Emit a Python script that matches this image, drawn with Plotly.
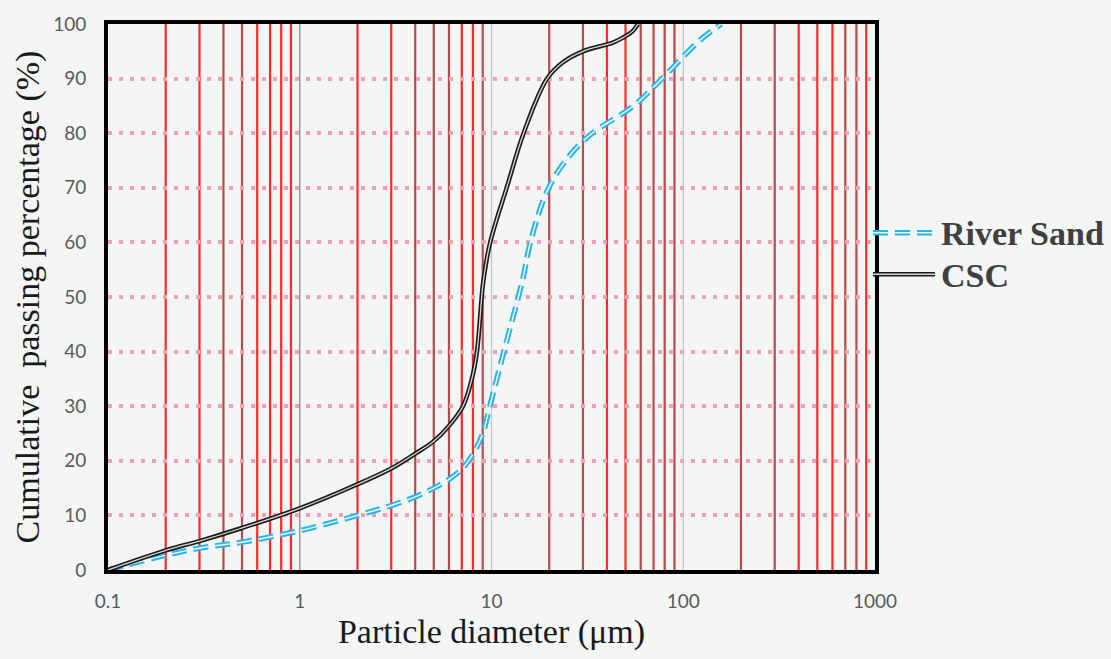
import plotly.graph_objects as go

# ---- data ----
csc_d = [0.1, 0.2, 0.3, 0.49, 1, 2, 3, 4, 5, 6, 7.1, 7.9, 8.4, 9.0, 9.4, 9.84, 10.6, 12.0, 14.7, 19.5, 23.6, 30, 43, 48.5, 54.5, 58]
csc_p = [0, 3.6, 5.3, 7.6, 11.3, 15.7, 18.6, 21.3, 23.6, 26.4, 30, 35, 40, 52, 56.5, 60, 64, 70, 80, 90, 93, 95, 96.6, 97.5, 98.7, 100]

river_d = [0.1, 0.2, 0.3, 0.5, 1, 2, 3, 4, 5, 6, 7, 8, 9, 9.8, 11.6, 14.5, 15.9, 19.5, 25, 32.7, 55, 77.6, 122, 158]
river_p = [0, 2.7, 4.0, 5.1, 7.2, 10, 11.8, 13.4, 15.0, 16.6, 18.5, 21.2, 25, 30, 40, 53, 59.8, 69.4, 75.5, 79.7, 85, 90, 97, 100]

x_ticks = [0.1, 1, 10, 100, 1000]
x_tick_labels = ["0.1", "1", "10", "100", "1000"]
y_ticks = [0, 10, 20, 30, 40, 50, 60, 70, 80, 90, 100]

minor_grid = [0.2, 0.3, 0.4, 0.5, 0.6, 0.7, 0.8, 0.9,
              2, 3, 4, 5, 6, 7, 8, 9,
              20, 30, 40, 50, 60, 70, 80, 90,
              200, 300, 400, 500, 600, 700, 800, 900]
BR = "#ff2a2a"
DK = "#b84b4b"
minor_colors = [BR, BR, DK, DK, BR, BR, BR, BR,
                BR, BR, DK, DK, DK, BR, BR, DK,
                DK, DK, BR, BR, DK, DK, DK, DK,
                DK, DK, BR, BR, BR, DK, DK, BR]
major_grid = [1, 10, 100]
major_colors = ["#8a8a8a", "#c4c4c4", "#c4c4c4"]

series_names = ["River Sand", "CSC"]
BG = "#f4f5f5"
CYAN = "#29b6e6"
SM = 1.0

fig = go.Figure()

# River sand: double dashed line
fig.add_trace(go.Scatter(x=river_d, y=river_p, mode="lines",
                         line=dict(color=CYAN, width=5.5, dash="15px,7px", shape="spline", smoothing=SM),
                         showlegend=False, hoverinfo="skip"))
fig.add_trace(go.Scatter(x=river_d, y=river_p, mode="lines",
                         line=dict(color=BG, width=1.5, dash="15px,7px", shape="spline", smoothing=SM),
                         showlegend=False, hoverinfo="skip"))
# CSC: double black line
fig.add_trace(go.Scatter(x=csc_d, y=csc_p, mode="lines",
                         line=dict(color="#1a1a1a", width=4.5, shape="spline", smoothing=SM),
                         showlegend=False, hoverinfo="skip"))
fig.add_trace(go.Scatter(x=csc_d, y=csc_p, mode="lines",
                         line=dict(color="#d8d8d8", width=1.3, shape="spline", smoothing=SM),
                         showlegend=False, hoverinfo="skip"))

shapes = []
for v, c in zip(minor_grid, minor_colors):
    shapes.append(dict(type="line", xref="x", yref="paper", x0=v, x1=v, y0=0, y1=1,
                       line=dict(color=c, width=2.2), layer="below"))
for v, c in zip(major_grid, major_colors):
    shapes.append(dict(type="line", xref="x", yref="paper", x0=v, x1=v, y0=0, y1=1,
                       line=dict(color=c, width=1.3), layer="below"))

# manual legend
def px(xp):
    return (xp - 108) / 767.0
def py(yp):
    return (570 - yp) / 552.0

leg_y = [229, 271]
shapes.append(dict(type="line", xref="paper", yref="paper", x0=px(873), x1=px(935), y0=py(leg_y[0]), y1=py(leg_y[0]),
                   line=dict(color=CYAN, width=5.5, dash="15px,7px")))
shapes.append(dict(type="line", xref="paper", yref="paper", x0=px(873), x1=px(935), y0=py(leg_y[0]), y1=py(leg_y[0]),
                   line=dict(color=BG, width=1.5, dash="15px,7px")))
shapes.append(dict(type="line", xref="paper", yref="paper", x0=px(873), x1=px(935), y0=py(leg_y[1]), y1=py(leg_y[1]),
                   line=dict(color="#1a1a1a", width=4.5)))
shapes.append(dict(type="line", xref="paper", yref="paper", x0=px(873), x1=px(935), y0=py(leg_y[1]), y1=py(leg_y[1]),
                   line=dict(color="#d8d8d8", width=1.3)))

annotations = []
for name, yy in zip(series_names, leg_y):
    annotations.append(dict(xref="paper", yref="paper", x=px(939), y=py(yy + 1), xanchor="left", yanchor="middle",
                            text="<b>%s</b>" % name, showarrow=False,
                            font=dict(family="Liberation Serif", size=34, color="#404040")))

fig.update_layout(
    width=1111, height=659,
    margin=dict(l=108, r=236, t=18, b=89),
    paper_bgcolor=BG, plot_bgcolor=BG,
    shapes=shapes, annotations=annotations,
    showlegend=False,
    xaxis=dict(type="log", range=[-1, 3], tickvals=x_ticks, ticktext=x_tick_labels,
               showgrid=False,
               showline=True, linecolor="black", linewidth=4, mirror=True,
               ticks="", zeroline=False, ticklabelstandoff=11,
               tickfont=dict(family="Lato", size=19, color="#5a5a5a"),
               title=dict(text="Particle diameter (\u03bcm)", standoff=9,
                          font=dict(family="Liberation Serif", size=34, color="#1a1a1a"))),
    yaxis=dict(range=[0, 100], tickvals=y_ticks,
               showgrid=True, gridcolor="#f2a0b4", gridwidth=3.5, griddash="3.5px,7.5px",
               showline=True, linecolor="black", linewidth=4, mirror=True,
               ticks="", zeroline=False, ticklabelstandoff=14,
               tickfont=dict(family="Lato", size=19, color="#5a5a5a"),
               title=dict(text="Cumulative  passing percentage (%)", standoff=4,
                          font=dict(family="Liberation Serif", size=34, color="#1a1a1a"))),
)

fig.write_html("out.html", config={"displayModeBar": False},
               post_script="document.body.style.margin='0';document.body.style.overflow='hidden';")
